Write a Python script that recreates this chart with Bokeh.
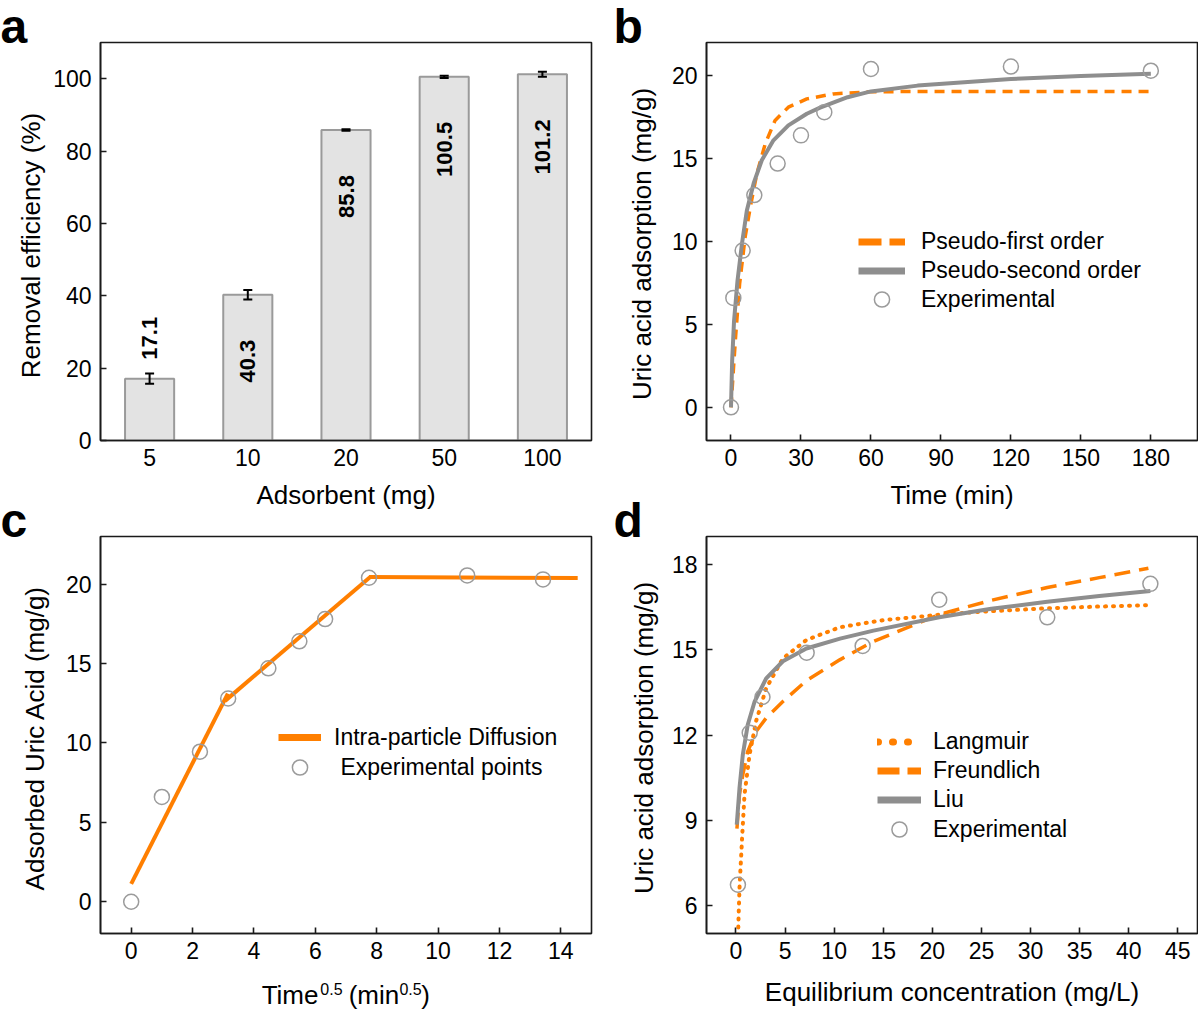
import math
from bokeh.plotting import figure
from bokeh.models import (ColumnDataSource, Whisker, TeeHead, Legend,
                          LegendItem, Range1d, FixedTicker)
from bokeh.layouts import row, column
from bokeh.embed import file_html
from bokeh.resources import INLINE
from bokeh.core.properties import value

FONT = "Liberation Sans"
ORANGE = "#ff7f00"
GREY_LINE = "#8e8e8e"
GREY_MARK = "#9b9b9b"
AXIS = "#1a1a1a"
NAN = float("nan")

# ---------------- data ----------------
# (a) removal efficiency vs adsorbent dose
adsorbent = ["5", "10", "20", "50", "100"]
removal = [17.1, 40.3, 85.8, 100.5, 101.2]
removal_err = [1.4, 1.3, 0.2, 0.3, 0.7]
removal_labels = ["17.1", "40.3", "85.8", "100.5", "101.2"]

# (b) kinetics
time_min = [0, 1, 5, 10, 20, 30, 40, 60, 120, 180]
q_time = [0, 6.6, 9.45, 12.8, 14.7, 16.4, 17.8, 20.4, 20.55, 20.3]
pfo_t = [0, 1, 2, 3.7, 6.1, 8.3, 11.1, 14.7, 18.9, 24.6, 32.5, 43.8, 60, 90, 120, 150, 180]
pfo_q = [0, 2.2, 4.3, 7.45, 10.3, 12.1, 14.1, 15.9, 17.3, 18.1, 18.6, 18.9, 19.03, 19.05, 19.05, 19.05, 19.05]
pso_t = [0, 0.5, 1.3, 2.8, 4.7, 6.8, 9.7, 13.2, 18.2, 24.6, 32.5, 38.2, 50, 60, 80, 100, 120, 150, 180]
pso_q = [0, 2.8, 5.2, 7.65, 9.86, 11.87, 13.5, 14.9, 16.1, 17.0, 17.7, 18.07, 18.7, 19.05, 19.4, 19.6, 19.8, 19.98, 20.12]

# (c) intra-particle diffusion
sqrt_time = [0, 1.0, 2.24, 3.16, 4.47, 5.48, 6.32, 7.75, 10.95, 13.42]
q_sqrt = [0, 6.6, 9.45, 12.8, 14.7, 16.4, 17.8, 20.4, 20.55, 20.3]
ipd_x = [[0, 3.15], [3.06, 7.79], [7.75, 14.55]]
ipd_y = [[1.13, 13.1], [12.65, 20.45], [20.45, 20.38]]

# (d) isotherms
ce = [0.2, 1.4, 2.7, 7.2, 12.9, 20.7, 31.7, 42.2]
qe = [6.72, 12.08, 13.34, 14.9, 15.14, 16.77, 16.15, 17.33]
lang_c = [0.15, 0.25, 0.36, 0.63, 0.87, 1.38, 2.06, 3.08, 4.78, 7.17, 10.57, 15, 20.7, 25, 31.7, 37, 42.2]
lang_q = [3.8, 5.4, 6.6, 8.4, 9.9, 11.3, 12.5, 13.65, 14.7, 15.35, 15.8, 16.05, 16.24, 16.35, 16.47, 16.53, 16.58]
freu_c = [0.1, 0.36, 0.7, 1.2, 2.06, 3.08, 4.78, 7.17, 10.57, 14, 20.7, 26, 31.7, 37, 42]
freu_q = [8.7, 9.9, 10.6, 11.42, 12.13, 12.6, 13.18, 13.92, 14.65, 15.3, 16.25, 16.75, 17.2, 17.55, 17.88]
liu_c = [0.08, 0.36, 0.7, 1.2, 1.9, 3.08, 4.78, 7.17, 10.6, 14, 20.7, 26, 31.7, 37, 42.2]
liu_q = [8.84, 10.13, 11.31, 12.36, 13.18, 14.0, 14.6, 15.05, 15.4, 15.68, 16.15, 16.45, 16.7, 16.9, 17.08]


# ---------------- helpers ----------------
def make_fig(width, height, borders, x_range, y_range):
    left, right, top, bottom = borders
    p = figure(width=width, height=height, x_range=x_range, y_range=y_range,
               output_backend="svg", toolbar_location=None,
               min_border_left=left, min_border_right=right,
               min_border_top=top, min_border_bottom=bottom)
    p.grid.visible = False
    p.background_fill_color = "white"
    p.border_fill_color = "white"
    p.outline_line_color = AXIS
    p.outline_line_width = 1.6
    p.outline_line_alpha = 1.0
    for ax in (p.xaxis[0], p.yaxis[0]):
        ax.axis_line_color = AXIS
        ax.axis_line_width = 1.6
        ax.major_tick_in = 6
        ax.major_tick_out = 0
        ax.major_tick_line_color = AXIS
        ax.major_tick_line_width = 1.6
        ax.minor_tick_line_color = None
        ax.major_label_text_font = FONT
        ax.major_label_text_font_size = "23px"
        ax.major_label_text_color = "black"
        ax.major_label_standoff = 9
        ax.axis_label_text_font = FONT
        ax.axis_label_text_font_size = "26px"
        ax.axis_label_text_font_style = "normal"
        ax.axis_label_text_color = "black"
    p.xaxis[0].major_label_standoff = 8
    return p


def make_strip(width, height, left=0, right=0, frame_w=None):
    fw = frame_w if frame_w is not None else width
    s = figure(width=width, height=height, x_range=Range1d(0, fw),
               y_range=Range1d(0, height), output_backend="svg",
               toolbar_location=None, x_axis_location=None, y_axis_location=None,
               min_border_left=left, min_border_right=right, min_border_top=0,
               min_border_bottom=0)
    s.grid.visible = False
    s.outline_line_color = None
    s.background_fill_color = "white"
    s.border_fill_color = "white"
    return s


def strip_text(s, x, y, text, size, bold=False, angle=0.0, align="left",
               baseline="alphabetic"):
    s.text(x=[x], y=[y], text=[text], angle=angle, text_align=align,
           text_baseline=baseline, text_font=value(FONT), text_font_size=size,
           text_font_style="bold" if bold else "normal", text_color="black")


def make_legend(items, location, glyph_w, item_h, standoff):
    leg = Legend(items=items, location=location)
    leg.label_text_font = FONT
    leg.label_text_font_size = "23px"
    leg.label_text_color = "black"
    leg.border_line_color = None
    leg.background_fill_alpha = 0
    leg.padding = 0
    leg.margin = 0
    leg.spacing = 0
    leg.glyph_width = glyph_w
    leg.glyph_height = item_h
    leg.label_height = item_h
    leg.label_standoff = standoff
    return leg


# ---------------- (a) ----------------
pa = make_fig(554, 518, (49, 7, 42, 78), adsorbent, Range1d(0, 110))
pa.xaxis[0].major_tick_in = 0
pa.yaxis[0].ticker = FixedTicker(ticks=[0, 20, 40, 60, 80, 100])
pa.xaxis[0].axis_label = "Adsorbent (mg)"
pa.xaxis[0].axis_label_standoff = 11

pa.vbar(x=adsorbent, top=removal, width=0.5, fill_color="#e3e3e3",
        line_color="#9a9a9a", line_width=2)
err_src = ColumnDataSource(dict(
    x=adsorbent,
    upper=[v + e for v, e in zip(removal, removal_err)],
    lower=[v - e for v, e in zip(removal, removal_err)]))
wh = Whisker(source=err_src, base="x", upper="upper", lower="lower",
             line_color="black", line_width=2, level="annotation",
             upper_head=TeeHead(size=9, line_color="black", line_width=2),
             lower_head=TeeHead(size=9, line_color="black", line_width=2))
pa.add_layout(wh)

inside = [i for i, v in enumerate(removal) if v >= 30]
outside = [i for i, v in enumerate(removal) if v < 30]
txt_kw = dict(angle=math.pi / 2, text_baseline="middle", text_font=value(FONT),
              text_font_style="bold", text_font_size="22px", text_color="black")
pa.text(x=[adsorbent[i] for i in inside], y=[removal[i] for i in inside],
        text=[removal_labels[i] for i in inside], text_align="right",
        y_offset=45, **txt_kw)
pa.text(x=[adsorbent[i] for i in outside], y=[removal[i] for i in outside],
        text=[removal_labels[i] for i in outside], text_align="left",
        y_offset=-19, **txt_kw)

# ---------------- (b) ----------------
pb = make_fig(538, 518, (46, 1, 42, 78), Range1d(-10.5, 200), Range1d(-2, 22))
pb.xaxis[0].ticker = FixedTicker(ticks=[0, 30, 60, 90, 120, 150, 180])
pb.yaxis[0].ticker = FixedTicker(ticks=[0, 5, 10, 15, 20])
pb.xaxis[0].axis_label = "Time (min)"
pb.xaxis[0].axis_label_standoff = 11

pb.line(pfo_t, pfo_q, line_color=ORANGE, line_width=3.5, line_dash="10 7")
pb.line(pso_t, pso_q, line_color=GREY_LINE, line_width=4)
sc_b = pb.scatter(time_min, q_time, marker="circle", size=15, fill_color=None,
                  line_color=GREY_MARK, line_width=1.5)
lg_pfo = pb.line([NAN], [NAN], line_color=ORANGE, line_width=7, line_dash="23 8")
lg_pso = pb.line([NAN], [NAN], line_color=GREY_LINE, line_width=7)
pb.add_layout(make_legend([
    LegendItem(label="Pseudo-first order", renderers=[lg_pfo]),
    LegendItem(label="Pseudo-second order", renderers=[lg_pso]),
], (152, 155), 47, 29, 16))
pb.add_layout(make_legend([
    LegendItem(label="Experimental", renderers=[sc_b]),
], (152, 122), 47, 38, 16))

# ---------------- (c) ----------------
pc = make_fig(554, 450, (49, 13, 18, 35), Range1d(-1, 15), Range1d(-2, 23))
pc.xaxis[0].ticker = FixedTicker(ticks=[0, 2, 4, 6, 8, 10, 12, 14])
pc.yaxis[0].ticker = FixedTicker(ticks=[0, 5, 10, 15, 20])

pc.multi_line(ipd_x, ipd_y, line_color=ORANGE, line_width=4)
sc_c = pc.scatter(sqrt_time, q_sqrt, marker="circle", size=15, fill_color=None,
                  line_color=GREY_MARK, line_width=1.5)
lg_ipd = pc.line([NAN], [NAN], line_color=ORANGE, line_width=7)
pc.add_layout(make_legend([
    LegendItem(label="Intra-particle Diffusion", renderers=[lg_ipd]),
], (178, 181), 43, 30, 13))
pc.add_layout(make_legend([
    LegendItem(label="\u00a0Experimental points", renderers=[sc_c]),
], (178, 147), 43, 38, 13))

# composite x-axis label of (c) with superscripts; strip frame = pc frame (492 px)
strip_c = make_strip(554, 44, left=49, right=13, frame_w=492)
for t, fs, px, py in [("Time", "26px", 161.5, 17.6), ("0.5", "16px", 220.3, 24),
                      ("(min", "26px", 248.7, 17.6), ("0.5", "16px", 299.5, 24),
                      (")", "26px", 321.4, 17.6)]:
    strip_text(strip_c, px, py, t, fs)

# ---------------- (d) ----------------
pd_ = make_fig(538, 494, (46, 1, 18, 79), Range1d(-3, 47), Range1d(5, 19))
pd_.xaxis[0].ticker = FixedTicker(ticks=[0, 5, 10, 15, 20, 25, 30, 35, 40, 45])
pd_.yaxis[0].ticker = FixedTicker(ticks=[6, 9, 12, 15, 18])
pd_.xaxis[0].axis_label = "Equilibrium concentration (mg/L)"
pd_.xaxis[0].axis_label_standoff = 15

pd_.line(lang_c, lang_q, line_color=ORANGE, line_width=4, line_dash="1 7",
         line_cap="round")
pd_.line(freu_c, freu_q, line_color=ORANGE, line_width=3.5, line_dash="16 9")
pd_.line(liu_c, liu_q, line_color=GREY_LINE, line_width=4)
sc_d = pd_.scatter(ce, qe, marker="circle", size=15, fill_color=None,
                   line_color=GREY_MARK, line_width=1.5)
lg_l = pd_.line([NAN], [NAN], line_color=ORANGE, line_width=7, line_dash="1 14",
                line_cap="round")
lg_f = pd_.line([NAN], [NAN], line_color=ORANGE, line_width=7, line_dash="22 8")
lg_u = pd_.line([NAN], [NAN], line_color=GREY_LINE, line_width=7)
pd_.add_layout(make_legend([
    LegendItem(label="Langmuir", renderers=[lg_l]),
    LegendItem(label="Freundlich", renderers=[lg_f]),
    LegendItem(label="Liu", renderers=[lg_u]),
], (171, 119), 44, 29, 12))
pd_.add_layout(make_legend([
    LegendItem(label="Experimental", renderers=[sc_d]),
], (171, 85), 44, 38, 12))

# ---------------- side strips: panel letters and y-axis titles ----------------
side_a = make_strip(50, 494)
strip_text(side_a, 0, 468.3, "a", "48px", bold=True)
strip_text(side_a, 30, 249, "Removal efficiency (%)", "26px",
           angle=math.pi / 2, align="center", baseline="middle")

side_c = make_strip(50, 518)
strip_text(side_c, 0, 491.8, "c", "48px", bold=True)
strip_text(side_c, 34, 274.5, "Adsorbed Uric Acid (mg/g)", "26px",
           angle=math.pi / 2, align="center", baseline="middle")

side_b = make_strip(56, 494)
strip_text(side_b, 9, 468.3, "b", "48px", bold=True)
strip_text(side_b, 37.5, 250.5, "Uric acid adsorption (mg/g)", "26px",
           angle=math.pi / 2, align="center", baseline="middle")

side_d = make_strip(56, 518)
strip_text(side_d, 9, 491.8, "d", "48px", bold=True)
strip_text(side_d, 39, 274.5, "Uric acid adsorption (mg/g)", "26px",
           angle=math.pi / 2, align="center", baseline="middle")

layout = row(column(side_a, side_c), column(pa, pc, strip_c),
             column(side_b, side_d), column(pb, pd_))
open("out.html", "w").write(file_html(layout, INLINE))
